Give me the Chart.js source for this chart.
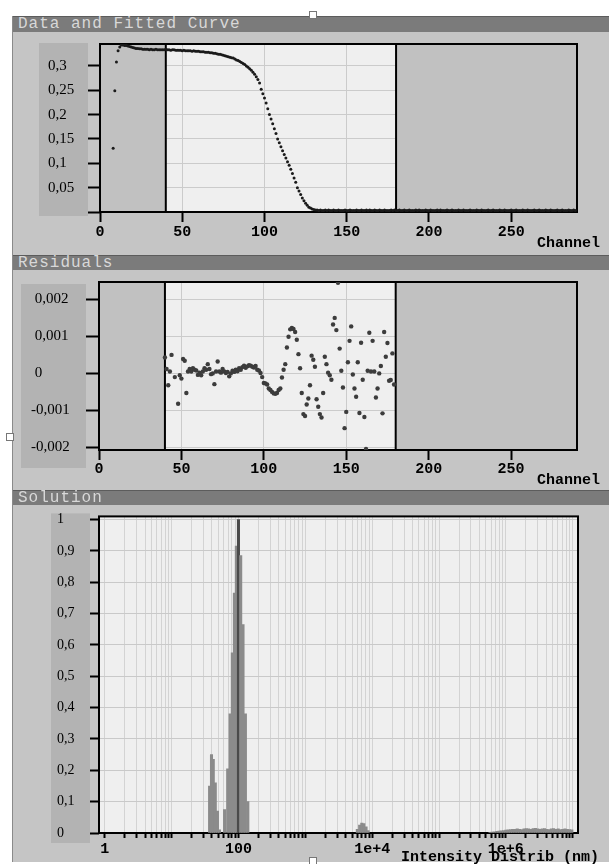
<!DOCTYPE html>
<html>
<head>
<meta charset="utf-8">
<script src="https://cdn.jsdelivr.net/npm/chart.js@4.4.1/dist/chart.umd.min.js"></script>
<style>
  html, body { margin: 0; padding: 0; background: #fff; }
  body { width: 609px; height: 864px; position: relative; overflow: hidden; }
  .edge { position: absolute; left: 12px; top: 16px; width: 1px; height: 846px; background: #8a8a8a; }
  .bar { position: absolute; left: 13px; width: 596px; background: #7b7b7b; border-top: 1px solid #5c5c5c;
         box-sizing: border-box; color: #d8d8d8; font: 16px "Liberation Mono", "Courier New", monospace;
         letter-spacing: 1px; padding-left: 5px; white-space: pre; }
  .panel { position: absolute; left: 13px; width: 596px; background: #c5c5c5; }
  canvas { position: absolute; left: 13px; }
  .axis-title { position: absolute; font: bold 15px "Liberation Mono", "Courier New", monospace; color: #000;
                white-space: pre; line-height: 15px; }
  .handle { position: absolute; width: 6px; height: 6px; background: #fff; border: 1px solid #777; }
</style>
</head>
<body>
<div class="edge"></div>

<div class="bar" style="top:16px;height:16px;line-height:15px;">Data and Fitted Curve</div>
<div class="panel" style="top:32px;height:223px;"></div>
<canvas id="fitChart" width="596" height="221" style="top:32px;"></canvas>
<div class="axis-title" style="left:537px;top:236px;">Channel</div>

<div class="bar" style="top:255px;height:15px;line-height:14px;">Residuals</div>
<div class="panel" style="top:270px;height:220px;"></div>
<canvas id="resChart" width="596" height="220" style="top:270px;"></canvas>
<div class="axis-title" style="left:537px;top:473px;">Channel</div>

<div class="bar" style="top:490px;height:15px;line-height:14px;">Solution</div>
<div class="panel" style="top:505px;height:357px;"></div>
<canvas id="solChart" width="596" height="357" style="top:505px;"></canvas>
<div class="axis-title" style="left:401px;top:850px;">Intensity Distrib (nm)</div>

<div class="handle" style="left:309px;top:11px;"></div>
<div class="handle" style="left:309px;top:857px;"></div>
<div class="handle" style="left:6px;top:433px;"></div>

<script>
// fenêtre d'ajustement (canaux)
const fitWindow = [40, 180];

// données + courbe ajustée : une valeur par canal, à partir du canal 8
const fitFirstChannel = 8;
const fitValues = [
  0.131, 0.249, 0.308, 0.331, 0.339, 0.343, 0.343, 0.342, 0.342, 0.341,
  0.340, 0.339, 0.338, 0.337, 0.336, 0.336, 0.335, 0.335, 0.334, 0.334,
  0.334, 0.334, 0.333, 0.334, 0.333, 0.333, 0.334, 0.333, 0.333, 0.333,
  0.333, 0.333, 0.334, 0.333, 0.333, 0.332, 0.333, 0.333, 0.332, 0.332,
  0.332, 0.332, 0.331, 0.332, 0.331, 0.331, 0.331, 0.331, 0.330, 0.331,
  0.330, 0.330, 0.330, 0.329, 0.329, 0.329, 0.328, 0.328, 0.328, 0.327,
  0.327, 0.326, 0.326, 0.325, 0.324, 0.324, 0.323, 0.322, 0.321, 0.320,
  0.319, 0.318, 0.317, 0.316, 0.314, 0.312, 0.311, 0.309, 0.307, 0.305,
  0.303, 0.300, 0.297, 0.294, 0.291, 0.287, 0.283, 0.278, 0.272, 0.265,
  0.252, 0.243, 0.234, 0.224, 0.212, 0.200, 0.191, 0.181, 0.171, 0.161,
  0.150, 0.142, 0.134, 0.126, 0.118, 0.111, 0.103, 0.096, 0.088, 0.079,
  0.070, 0.061, 0.050, 0.043, 0.036, 0.029, 0.023, 0.018, 0.014, 0.010,
  0.008, 0.006, 0.005, 0.004, 0.004, 0.003, 0.004, 0.003, 0.003, 0.004,
  0.003, 0.004, 0.003, 0.003, 0.004, 0.003, 0.003, 0.004, 0.003, 0.003,
  0.003, 0.004, 0.003, 0.003, 0.004, 0.003, 0.003, 0.003, 0.004, 0.003,
  0.003, 0.004, 0.003, 0.003, 0.004, 0.003, 0.004, 0.003, 0.003, 0.004,
  0.003, 0.003, 0.004, 0.003, 0.003, 0.004, 0.003, 0.003, 0.003, 0.004,
  0.003, 0.004, 0.003, 0.003, 0.004, 0.003, 0.003, 0.004, 0.003, 0.003,
  0.004, 0.003, 0.003, 0.003, 0.004, 0.003, 0.004, 0.003, 0.003, 0.003,
  0.004, 0.003, 0.003, 0.004, 0.003, 0.003, 0.003, 0.004, 0.003, 0.004,
  0.003, 0.003, 0.003, 0.004, 0.003, 0.003, 0.004, 0.003, 0.003, 0.003,
  0.004, 0.003, 0.003, 0.004, 0.003, 0.003, 0.003, 0.004, 0.003, 0.003,
  0.003, 0.004, 0.003, 0.003, 0.004, 0.003, 0.003, 0.003, 0.004, 0.003,
  0.003, 0.004, 0.003, 0.003, 0.003, 0.004, 0.003, 0.003, 0.004, 0.003,
  0.003, 0.003, 0.004, 0.003, 0.003, 0.004, 0.003, 0.003, 0.003, 0.004,
  0.003, 0.003, 0.004, 0.003, 0.003, 0.003, 0.004, 0.003, 0.003, 0.004,
  0.003, 0.003, 0.003, 0.004, 0.003, 0.003, 0.004, 0.003, 0.003, 0.003,
  0.004, 0.003, 0.003, 0.004, 0.003, 0.003, 0.003, 0.004, 0.003, 0.003,
  0.004, 0.003
];

// résidus
const resChannels = [
  40, 41, 42, 43, 44, 46, 48, 49, 50, 51, 52, 53, 54, 55, 56, 57, 58, 59, 60, 61,
  62, 63, 64, 65, 66, 67, 68, 69, 70, 71, 72, 73, 74, 75, 76, 77, 78, 79, 80, 81,
  82, 83, 84, 85, 86, 87, 88, 89, 90, 91, 92, 93, 94, 95, 96, 97, 98, 99, 100, 101,
  102, 103, 104, 105, 106, 107, 108, 109, 110, 111, 112, 113, 114, 115, 116, 117, 118, 119, 120, 121,
  122, 123, 124, 125, 126, 127, 128, 129, 130, 131, 132, 133, 134, 135, 136, 137, 138, 139, 140, 141,
  142, 143, 144, 145, 146, 147, 148, 149, 150, 151, 152, 153, 154, 155, 156, 157, 158, 159, 160, 161,
  162, 163, 164, 165, 166, 167, 168, 169, 170, 171, 172, 173, 174, 175, 176, 177, 178, 179, 180
];
const resValues = [
  0.00043, 0.00012, -0.00032, 0.00005, 0.00050, -0.00010, -0.00082, -0.00005, -0.00014, 0.00039,
  0.00034, -0.00053, 0.00005, 0.00012, 0.00005, 0.00014, 0.00010, 0.00008, -0.00004, 0.00002,
  -0.00005, 0.00005, 0.00014, 0.00010, 0.00025, 0.00012, -0.00002, 0.00000, -0.00029, 0.00005,
  0.00032, 0.00005, 0.00002, 0.00012, 0.00005, 0.00001, 0.00004, -0.00008, 0.00000, 0.00007,
  0.00004, 0.00010, 0.00006, 0.00014, 0.00010, 0.00017, 0.00021, 0.00015, 0.00019, 0.00022,
  0.00021, 0.00018, 0.00016, 0.00020, 0.00010, 0.00008, 0.00001, -0.00010, -0.00026, -0.00027,
  -0.00030, -0.00041, -0.00045, -0.00050, -0.00054, -0.00055, -0.00053, -0.00045, -0.00041, -0.00011,
  0.00010, 0.00025, 0.00070, 0.00099, 0.00119, 0.00123, 0.00120, 0.00112, 0.00091, 0.00052,
  0.00014, -0.00053, -0.00110, -0.00115, -0.00084, -0.00068, -0.00032, 0.00048, 0.00037, 0.00018,
  -0.00070, -0.00090, -0.00110, -0.00119, -0.00053, 0.00045, 0.00025, 0.00002, -0.00005, -0.00017,
  0.00132, 0.00150, 0.00117, 0.00245, 0.00067, 0.00007, -0.00038, -0.00148, -0.00104, 0.00030,
  0.00088, 0.00127, -0.00003, -0.00041, -0.00063, 0.00030, -0.00107, 0.00083, -0.00017, -0.00118,
  -0.00204, 0.00007, 0.00110, 0.00005, 0.00088, 0.00005, -0.00065, -0.00041, 0.00000, 0.00020,
  -0.00108, 0.00112, 0.00045, 0.00082, -0.00020, -0.00018, 0.00054, -0.00030
];

// distribution (taille en nm, intensité relative)
const solSizes = [
  37, 39.5, 42, 45, 48.5, 52,
  62, 69, 75, 81, 87, 93, 100, 108, 117, 127, 138,
  6000, 6500, 7000, 7500, 8100, 8700,
  580000, 620000, 670000, 730000, 790000, 850000, 920000, 1000000, 1080000, 1170000,
  1260000, 1370000, 1480000, 1600000, 1730000, 1870000, 2020000, 2190000, 2370000, 2560000,
  2770000, 3000000, 3240000, 3500000, 3790000, 4100000, 4430000, 4790000, 5180000, 5600000,
  6060000, 6550000, 7090000, 7660000, 8290000, 8960000, 9700000
];
const solIntensity = [
  0.15, 0.25, 0.235, 0.16, 0.07, 0.01,
  0.075, 0.205, 0.38, 0.575, 0.765, 0.915, 1.0, 0.885, 0.665, 0.38, 0.1,
  0.012, 0.025, 0.032, 0.03, 0.02, 0.008,
  0.002, 0.003, 0.004, 0.005, 0.006, 0.007, 0.008, 0.009, 0.010, 0.011,
  0.012, 0.012, 0.013, 0.012, 0.011, 0.013, 0.014, 0.013, 0.012, 0.014,
  0.015, 0.013, 0.012, 0.013, 0.014, 0.012, 0.011, 0.013, 0.014, 0.012,
  0.013, 0.011, 0.012, 0.013, 0.012, 0.011, 0.010
];

// étiquettes de l'axe log
const sizeAxisLabels = { 1: '1', 100: '100', 10000: '1e+4', 1000000: '1e+6' };

Chart.defaults.font.family = '"Liberation Serif", "Times New Roman", serif';
Chart.defaults.color = '#000';

const xTickFont = { family: '"Liberation Mono", "Courier New", monospace', size: 15, weight: 'bold' };

function comma(v) {
  return String(Math.round(v * 1e6) / 1e6).replace('.', ',');
}

// fond des étiquettes, zones grises hors fenêtre, cadre
const decor = {
  id: 'decor',
  beforeDraw(chart, args, o) {
    const { ctx, chartArea: a, scales: { y } } = chart;
    ctx.save();
    ctx.fillStyle = '#b3b3b3';
    const bx = y.left - o.pad;
    ctx.fillRect(bx, a.top + o.top, a.left - o.gap - bx, a.height - o.top + o.bottom);
    ctx.fillStyle = '#efefef';
    ctx.fillRect(a.left, a.top, a.width, a.height);
    ctx.restore();
  },
  beforeDatasetsDraw(chart, args, o) {
    const { ctx, chartArea: a, scales: { x } } = chart;
    ctx.save();
    ctx.strokeStyle = '#000';
    ctx.lineWidth = 2;
    if (o.window) {
      const x0 = x.getPixelForValue(o.window[0]);
      const x1 = x.getPixelForValue(o.window[1]);
      ctx.fillStyle = '#c1c1c1';
      ctx.fillRect(a.left, a.top, x0 - a.left, a.height);
      ctx.fillRect(x1, a.top, a.right - x1, a.height);
      ctx.beginPath();
      ctx.moveTo(x0, a.top); ctx.lineTo(x0, a.bottom);
      ctx.moveTo(x1, a.top); ctx.lineTo(x1, a.bottom);
      ctx.stroke();
    }
    ctx.strokeRect(a.left, a.top, a.width, a.height);
    ctx.restore();
  }
};

// Data and Fitted Curve
new Chart(document.getElementById('fitChart'), {
  type: 'scatter',
  data: {
    datasets: [{
      data: fitValues.map((v, i) => ({ x: fitFirstChannel + i, y: v })),
      pointRadius: 1.5,
      pointBorderWidth: 0,
      pointBackgroundColor: '#1a1a1a'
    }]
  },
  options: {
    responsive: false,
    animation: false,
    events: [],
    layout: { padding: { left: 35, right: 32, top: 10, bottom: 0 } },
    plugins: {
      legend: { display: false },
      tooltip: { enabled: false },
      decor: { pad: 9, top: -1, bottom: 4, gap: 12, window: fitWindow }
    },
    scales: {
      x: {
        type: 'linear', min: 0, max: 290,
        afterFit: s => { s.height = 41; },
        border: { display: false },
        grid: { color: '#cbcbcb', tickColor: '#000', tickWidth: 2, tickLength: 10 },
        ticks: { stepSize: 50, includeBounds: false, maxRotation: 0, padding: 1, font: xTickFont }
      },
      y: {
        min: 0, max: 0.345,
        afterFit: s => { s.width = 52; },
        border: { display: false },
        grid: { color: '#cbcbcb', tickColor: '#000', tickWidth: 2, tickLength: 12 },
        ticks: {
          stepSize: 0.05, includeBounds: false, crossAlign: 'far', font: { size: 15 },
          callback: v => (v === 0 ? '' : comma(v))
        }
      }
    }
  },
  plugins: [decor]
});

// Residuals
new Chart(document.getElementById('resChart'), {
  type: 'scatter',
  data: {
    datasets: [{
      data: resChannels.map((c, i) => ({ x: c, y: resValues[i] })),
      pointRadius: 2.2,
      pointBorderWidth: 0,
      pointBackgroundColor: '#3c3c3c'
    }]
  },
  options: {
    responsive: false,
    animation: false,
    events: [],
    layout: { padding: { left: 18, right: 32, top: 10, bottom: 0 } },
    plugins: {
      legend: { display: false },
      tooltip: { enabled: false },
      decor: { pad: 10, top: 2, bottom: 18, gap: 13, window: fitWindow }
    },
    scales: {
      x: {
        type: 'linear', min: 0, max: 290,
        afterFit: s => { s.height = 40; },
        border: { display: false },
        grid: { color: '#cbcbcb', tickColor: '#000', tickWidth: 2, tickLength: 10 },
        ticks: { stepSize: 50, includeBounds: false, maxRotation: 0, padding: 0, font: xTickFont }
      },
      y: {
        min: -0.00207, max: 0.00247,
        afterFit: s => { s.width = 68; },
        border: { display: false },
        grid: { color: '#cbcbcb', tickColor: '#000', tickWidth: 2, tickLength: 13 },
        ticks: {
          stepSize: 0.001, includeBounds: false, crossAlign: 'far', font: { size: 15 },
          callback: v => (v < 0 ? comma(v) : '\u00a0' + comma(v))
        }
      }
    }
  },
  plugins: [decor]
});

// Solution
new Chart(document.getElementById('solChart'), {
  type: 'bar',
  data: {
    datasets: [{
      data: solSizes.map((s, i) => ({ x: s, y: solIntensity[i] })),
      barThickness: 2.4,
      borderWidth: 0,
      backgroundColor: c => (c.raw && c.raw.y >= 0.99 ? '#4a4a4a' : '#8b8b8b')
    }]
  },
  options: {
    responsive: false,
    animation: false,
    events: [],
    layout: { padding: { left: 44, right: 31, top: 8, bottom: 0 } },
    plugins: {
      legend: { display: false },
      tooltip: { enabled: false },
      decor: { pad: 6, top: -3, bottom: 10, gap: 9, window: null }
    },
    scales: {
      x: {
        type: 'logarithmic', min: 0.82, max: 1.2e7,
        offset: false,
        afterFit: s => { s.height = 29; },
        afterBuildTicks: s => {
          const t = [];
          for (let e = 0; e <= 7; e++) {
            for (let m = 1; m <= 9; m++) {
              const v = m * Math.pow(10, e);
              if (v >= s.min && v <= s.max) t.push({ value: v });
            }
          }
          s.ticks = t;
        },
        border: { display: false },
        grid: { offset: false, color: '#d3d3d3', tickColor: '#000', tickWidth: 2, tickLength: 5 },
        ticks: {
          autoSkip: false, maxRotation: 0, minRotation: 0, padding: 2, font: xTickFont,
          callback: v => sizeAxisLabels[v] || ''
        }
      },
      y: {
        min: 0, max: 1.01,
        afterFit: s => { s.width = 42; },
        border: { display: false },
        grid: { color: '#c9c9c9', tickColor: '#000', tickWidth: 2, tickLength: 9 },
        ticks: { stepSize: 0.1, includeBounds: false, crossAlign: 'far', font: { size: 14 }, callback: v => comma(v) }
      }
    }
  },
  plugins: [decor]
});
</script>
</body>
</html>
